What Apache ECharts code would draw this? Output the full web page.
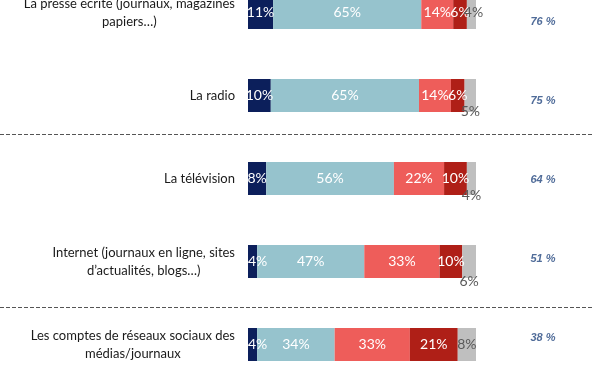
<!DOCTYPE html>
<html>
<head>
<meta charset="utf-8">
<script src="https://cdn.jsdelivr.net/npm/echarts@6/dist/echarts.min.js"></script>
<style>
html,body{margin:0;padding:0;background:#fff;}
#c{width:600px;height:372px;}
</style>
</head>
<body>
<div id="c"></div>
<script>
// ---- data ----
const categories = [
  "La presse écrite (journaux, magazines\npapiers…)",
  "La radio",
  "La télévision",
  "Internet (journaux en ligne, sites\nd’actualités, blogs…)",
  "Les comptes de réseaux sociaux des\nmédias/journaux"
];
const seriesNames = ["s1", "s2", "s3", "s4", "s5"];
const s1 = [11, 10, 8, 4, 4];
const s2 = [65, 65, 56, 47, 34];
const s3 = [14, 14, 22, 33, 33];
const s4 = [6, 6, 10, 10, 21];
const s5 = [4, 5, 4, 6, 8];
const totals = [76, 75, 64, 51, 38];

// ---- styles ----
const colors = ["#0C1F5B", "#96C3CD", "#EE5D5A", "#AF1F17", "#BFBFBF"];
const labelColors = ["#ffffff", "#ffffff", "#ffffff", "#ffffff", "#595959"];
const greyLabelOffsets = [[2, 0], [0, 16], [0, 17], [0, 20], [0, 0]];
const navyLabelOffsets = [[0, 0], [0, 0], [0, 0], [5, 0], [5, 0]];
const FONT = "Lato";

const chart = echarts.init(document.getElementById('c'), null, {renderer: 'canvas'});

const valueSets = [s1, s2, s3, s4, s5];
const barSeries = valueSets.map((vals, si) => ({
  name: seriesNames[si],
  type: 'bar',
  stack: 'total',
  xAxisIndex: 0,
  yAxisIndex: 0,
  barWidth: 33,
  itemStyle: {color: colors[si]},
  label: {
    show: true,
    position: 'inside',
    color: labelColors[si],
    fontFamily: FONT,
    fontSize: 14,
    formatter: '{c}%'
  },
  data: vals.map((v, i) => {
    if (si === 4) return {value: v, label: {offset: greyLabelOffsets[i]}};
    if (si === 0) return {value: v, label: {offset: navyLabelOffsets[i]}};
    return v;
  })
}));

const option = {
  animation: false,
  backgroundColor: '#ffffff',
  grid: [
    {left: 248, right: 124, top: -29, height: 415, containLabel: false, outerBoundsMode: 'none'},
    {left: 500, width: 86, top: -17, height: 394, containLabel: false, outerBoundsMode: 'none'}
  ],
  xAxis: [
    {type: 'value', gridIndex: 0, min: 0, max: 100, show: false},
    {type: 'value', gridIndex: 1, min: 0, max: 1, show: false}
  ],
  yAxis: [
    {
      type: 'category', gridIndex: 0, inverse: true, data: categories,
      axisLine: {show: false}, axisTick: {show: false}, splitLine: {show: false},
      axisLabel: {
        show: true,
        margin: 13,
        align: 'right',
        color: '#1a1a1a',
        fontFamily: FONT,
        fontSize: 13,
        lineHeight: 18,
        formatter: (val) => val.split('\n').map(s => '{c|' + s + '}').join('\n'),
        rich: {c: {align: 'center', fontFamily: FONT, fontSize: 13, color: '#1a1a1a', lineHeight: 18}}
      }
    },
    {type: 'category', gridIndex: 1, inverse: true, data: categories, show: false}
  ],
  series: barSeries.concat([{
    type: 'scatter',
    xAxisIndex: 1,
    yAxisIndex: 1,
    symbolSize: 1,
    itemStyle: {color: 'rgba(0,0,0,0)'},
    label: {
      show: true,
      position: 'inside',
      color: '#24477F',
      fontFamily: 'Liberation Sans',
      fontSize: 11,
      fontWeight: 'bold',
      fontStyle: 'italic',
      formatter: (p) => p.value[2] + ' %'
    },
    data: totals.map((t, i) => [0.5, i, t])
  }]),
  graphic: [
    {type: 'line', shape: {x1: 0, y1: 134.5, x2: 592, y2: 134.5},
     style: {stroke: '#555555', lineWidth: 1, lineDash: [4, 2]}},
    {type: 'line', shape: {x1: 0, y1: 307.5, x2: 592, y2: 307.5},
     style: {stroke: '#555555', lineWidth: 1, lineDash: [4, 2]}}
  ]
};
chart.setOption(option);
</script>
</body>
</html>
